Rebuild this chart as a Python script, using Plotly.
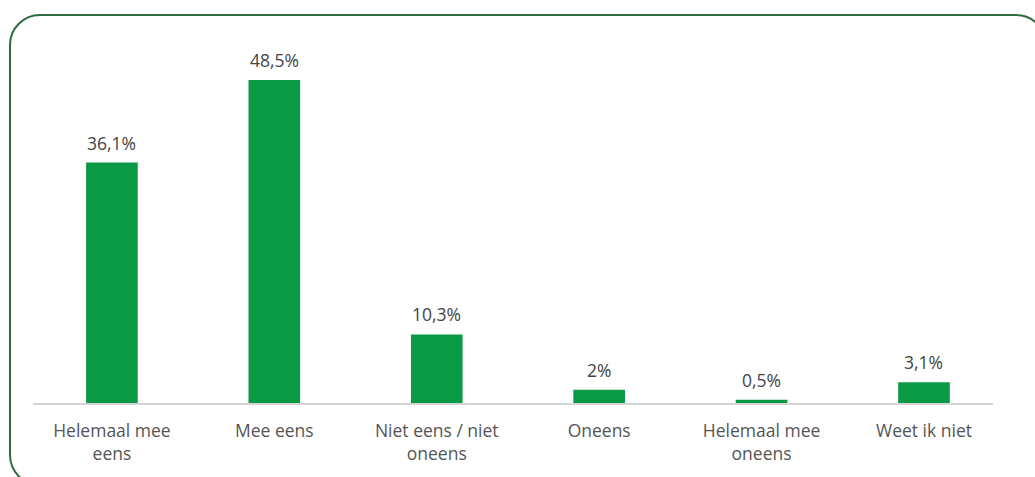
import plotly.graph_objects as go

categories = ["Helemaal mee<br>eens", "Mee eens", "Niet eens / niet<br>oneens", "Oneens", "Helemaal mee<br>oneens", "Weet ik niet"]
values = [36.1, 48.5, 10.3, 2.0, 0.5, 3.1]
value_labels = ["36,1%", "48,5%", "10,3%", "2%", "0,5%", "3,1%"]

W, H = 1035, 477
L, R, T, B = 33, 42, 70, 74
pw, ph = W - L - R, H - T - B

fig = go.Figure()
fig.add_trace(go.Bar(
    x=list(range(len(categories))), y=values,
    marker=dict(color="#0a9a46", line=dict(width=0)),
    width=0.318, hoverinfo="skip",
))

for i, (v, t) in enumerate(zip(values, value_labels)):
    fig.add_annotation(x=i, y=v, text=t, showarrow=False, yanchor="bottom",
                       yshift=6, font=dict(size=17.5, color="#444444"))

def px(x):
    return (x - L) / pw

def py(y):
    return (H - B - y) / ph

# rounded border (pixel geometry converted to paper coords)
x0, y0, x1, y1, r = 10, 15, 1046, 485, 30
k = 0.5523 * r
pts = [
    f"M {px(x0 + r)} {py(y0)}",
    f"L {px(x1 - r)} {py(y0)}",
    f"C {px(x1 - r + k)} {py(y0)} {px(x1)} {py(y0 + r - k)} {px(x1)} {py(y0 + r)}",
    f"L {px(x1)} {py(y1 - r)}",
    f"C {px(x1)} {py(y1 - r + k)} {px(x1 - r + k)} {py(y1)} {px(x1 - r)} {py(y1)}",
    f"L {px(x0 + r)} {py(y1)}",
    f"C {px(x0 + r - k)} {py(y1)} {px(x0)} {py(y1 - r + k)} {px(x0)} {py(y1 - r)}",
    f"L {px(x0)} {py(y0 + r)}",
    f"C {px(x0)} {py(y0 + r - k)} {px(x0 + r - k)} {py(y0)} {px(x0 + r)} {py(y0)}",
    "Z",
]
fig.add_shape(type="path", xref="paper", yref="paper", path=" ".join(pts),
              line=dict(color="#2f6b40", width=2), layer="above")

fig.update_layout(
    width=W, height=H,
    margin=dict(l=L, r=R, t=T, b=B),
    paper_bgcolor="white", plot_bgcolor="white",
    font=dict(family="Open Sans, Noto Sans, sans-serif", size=17, color="#555555"),
    showlegend=False,
    xaxis=dict(
        range=[-0.486, 5.425],
        tickmode="array", tickvals=list(range(len(categories))), ticktext=categories,
        showline=True, linecolor="#d4d4d4", linewidth=2,
        ticks="outside", ticklen=11, tickcolor="rgba(0,0,0,0)",
        showgrid=False, zeroline=False, fixedrange=True,
        tickfont=dict(size=17.5, color="#555555"),
    ),
    yaxis=dict(range=[0, 50], visible=False, showgrid=False, zeroline=False, fixedrange=True),
)

fig.write_html("out.html", config={"displayModeBar": False, "staticPlot": True},
               post_script="document.body.style.margin='0';document.body.style.overflow='hidden';")
